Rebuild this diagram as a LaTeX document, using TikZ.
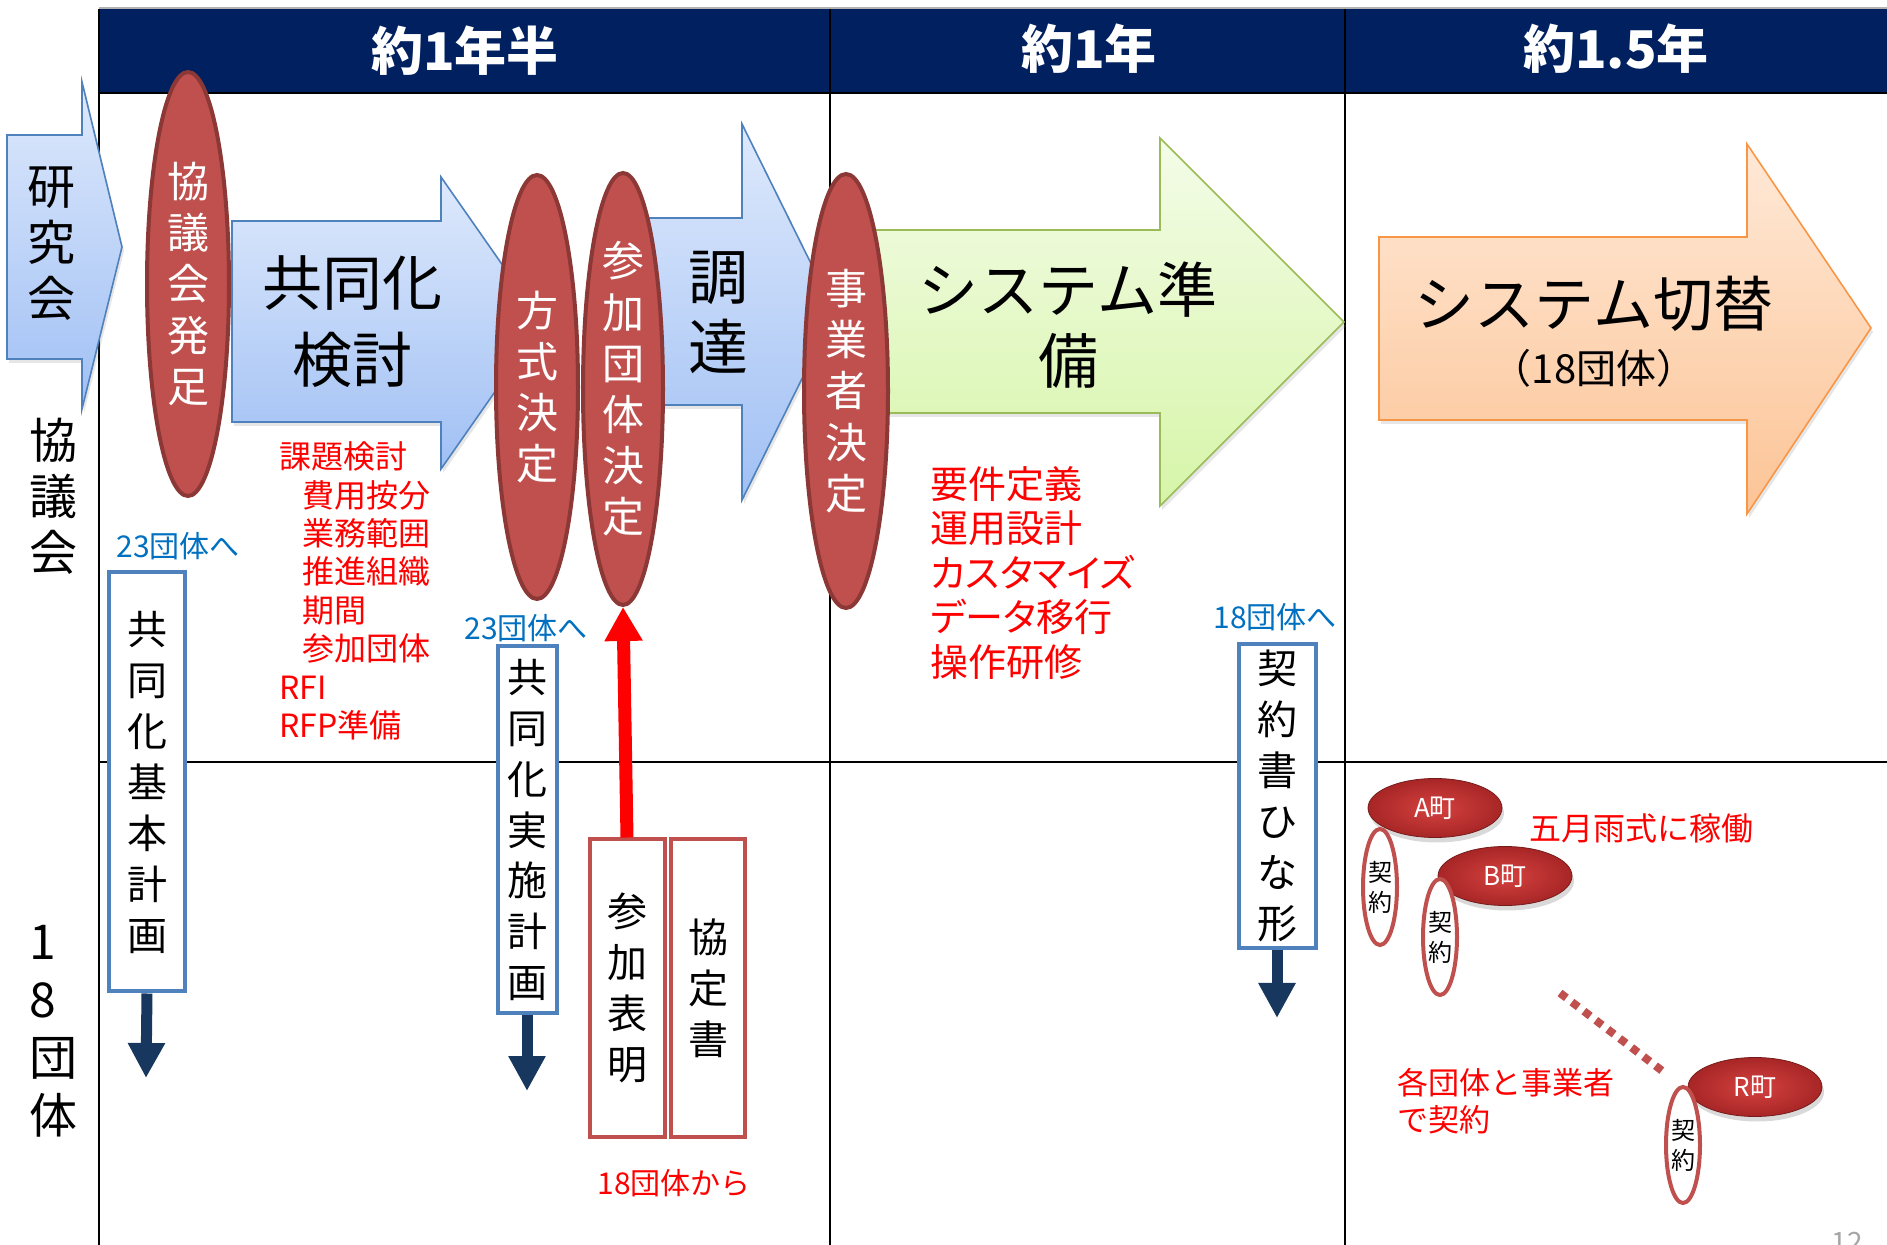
\documentclass[tikz,border=0pt]{standalone}
\usepackage{fontspec}
\setmainfont{Noto Sans CJK JP}
\usetikzlibrary{shapes.geometric,arrows.meta,shadows}

\definecolor{hdrnavy}{RGB}{0,32,96}
\definecolor{ovalred}{RGB}{192,80,77}
\definecolor{ovalline}{RGB}{140,56,54}
\definecolor{boxblue}{RGB}{79,129,189}
\definecolor{arrnavy}{RGB}{23,55,94}
\definecolor{noteblue}{RGB}{0,112,192}
\definecolor{notered}{RGB}{255,0,0}
\definecolor{bluetop}{RGB}{222,233,252}
\definecolor{bluebot}{RGB}{160,192,244}
\definecolor{greentop}{RGB}{244,252,232}
\definecolor{greenbot}{RGB}{214,245,168}
\definecolor{greenline}{RGB}{155,187,89}
\definecolor{orangetop}{RGB}{255,233,215}
\definecolor{orangebot}{RGB}{252,196,150}
\definecolor{orangeline}{RGB}{247,150,70}
\definecolor{townlight}{RGB}{212,66,64}
\definecolor{towndark}{RGB}{168,38,38}

\begin{document}
\begin{tikzpicture}[x=0.5pt,y=-0.5pt,
        grid/.style={draw=black, line width=1.3pt},
        hdr/.style={text=white, font=\bfseries\fontsize{26}{30}\selectfont},
        arrowshadow/.style={drop shadow={opacity=0.2, shadow xshift=1pt, shadow yshift=-2pt}},
        bluearrow/.style={arrowshadow, draw=boxblue, line width=0.8pt, top color=bluetop, bottom color=bluebot},
        greenarrow/.style={arrowshadow, draw=greenline, line width=0.8pt, top color=greentop, bottom color=greenbot},
        orangearrow/.style={arrowshadow, draw=orangeline, line width=0.8pt, top color=orangetop, bottom color=orangebot},
        bigtext/.style={align=center, inner sep=0pt, font=\fontsize{30}{38.5}\selectfont},
        sidetext/.style={align=center, inner sep=0pt, font=\fontsize{24}{28}\selectfont},
        oval/.style={ellipse, draw=ovalline, fill=ovalred, line width=2pt, text=white, align=center, inner sep=0pt, minimum width=41pt, font=\fontsize{21}{25.6}\selectfont},
        docbox/.style={draw=boxblue, fill=white, line width=2pt, align=center, inner sep=0pt, font=\fontsize{20}{25.5}\selectfont},
        redbox/.style={docbox, draw=ovalred},
        rednote/.style={text=notered, align=left, inner sep=0pt},
        bluenote/.style={text=noteblue, inner sep=0pt, font=\fontsize{15}{18}\selectfont},
        town/.style={ellipse, minimum width=67pt, minimum height=29.5pt, inner sep=0pt, draw=towndark!70!black, line width=0.4pt, inner color=townlight, outer color=towndark, text=white, font=\fontsize{13}{15}\selectfont, drop shadow={opacity=0.3, shadow xshift=1pt, shadow yshift=-2.5pt}},
        contract/.style={ellipse, draw=ovalred, fill=white, line width=2pt, minimum width=17pt, minimum height=58pt, inner sep=0pt, align=center, font=\fontsize{12}{15}\selectfont},
        navyarrow/.style={draw=arrnavy, line width=5.5pt, -{Triangle[width=17.5pt,length=17.5pt]}},
        redarrow/.style={draw=notered, line width=6.5pt, -{Triangle[width=18pt,length=17pt]}},
        dotline/.style={draw=ovalred, line width=4pt, dash pattern=on 4pt off 3.5pt},
    ]
    \useasboundingbox (0,0) rectangle (1887,1245);

    % header and grid
    \fill[hdrnavy] (99,9) rectangle (1887,93);
    \draw[gray!60, line width=1pt] (99,8) -- (1887,8);
    \draw[grid] (99,93) -- (1887,93);
    \draw[grid] (99,762) -- (1887,762);
    \draw[grid] (99,9) -- (99,1245);
    \draw[grid] (830,9) -- (830,1245);
    \draw[grid] (1345,9) -- (1345,1245);
    \node[hdr](hdrA) at (465,51) {約1年半};
    \node[hdr](hdrB) at (1089,49) {約1年};
    \node[hdr](hdrC) at (1616,49) {約1.5年};

    % block arrows
    \draw[bluearrow] (7,135) -- (82,135) -- (82,82) -- (122,247) -- (82,409) -- (82,359) -- (7,359) -- cycle;
    \draw[bluearrow] (232,221) -- (441,221) -- (441,177) -- (543,323) -- (441,469) -- (441,422) -- (232,422) -- cycle;
    \draw[bluearrow] (640,218) -- (742,218) -- (742,124) -- (835,312) -- (742,500) -- (742,405) -- (640,405) -- cycle;
    \draw[greenarrow] (870,230) -- (1160,230) -- (1160,138) -- (1344,322) -- (1160,506) -- (1160,413) -- (870,413) -- cycle;
    \draw[orangearrow] (1379,237) -- (1747,237) -- (1747,144) -- (1871,328) -- (1747,514) -- (1747,420) -- (1379,420) -- cycle;
    \node[sidetext](kenkyu) at (51,244) {研\\究\\会};
    \node[bigtext](kento) at (352,322) {共同化\\検討};
    \node[bigtext, font=\fontsize{30}{35}\selectfont](chotatsu) at (718,313) {調\\達};
    \node[bigtext, font=\fontsize{30}{35.5}\selectfont](junbi) at (1068,325) {システム準\\備};
    \node[bigtext](kirikae) at (1594,304) {システム切替};
    \node[inner sep=0pt, font=\fontsize{20}{24}\selectfont](kirikaeSub) at (1594,368) {（18団体）};

    % decisions
    \node[oval, minimum height=212pt](ovKyogikai) at (188,284) {協\\議\\会\\発\\足};
    \node[oval, minimum height=212pt](ovHoshiki) at (537,387) {方\\式\\決\\定};
    \node[oval, minimum width=40pt, minimum height=216pt](ovSanka) at (623,389) {参\\加\\団\\体\\決\\定};
    \node[oval, minimum width=42pt, minimum height=217pt](ovJigyo) at (846,391) {事\\業\\者\\決\\定};

    \node[sidetext](kyogikaiLbl) at (53,496) {協\\議\\会};
    \node[sidetext, align=left, anchor=west, font=\fontsize{24}{29}\selectfont](dantaiLbl) at (29,1031) {1\\8\\団\\体};

    \node[rednote, anchor=west, font=\fontsize{16}{19.2}\selectfont](kadai) at (279,591) {課題検討\\\hspace*{11.5pt}費用按分\\\hspace*{11.5pt}業務範囲\\\hspace*{11.5pt}推進組織\\\hspace*{11.5pt}期間\\\hspace*{11.5pt}参加団体\\RFI\\RFP準備};
    \node[rednote, anchor=west, font=\fontsize{19}{22.25}\selectfont\addfontfeature{RawFeature=+palt}](yoken) at (930,573) {要件定義\\運用設計\\カスタマイズ\\データ移行\\操作研修};

    \node[bluenote](toA) at (178,546) {23団体へ};
    \node[bluenote](toB) at (526,628) {23団体へ};
    \node[bluenote](toC) at (1275,617) {18団体へ};

    % documents
    \node[docbox, minimum width=38pt, minimum height=209.5pt](bxKihon) at (147,782) {共\\同\\化\\基\\本\\計\\画};
    \node[docbox, minimum width=29.5pt, minimum height=183.5pt, font=\fontsize{20}{25.4}\selectfont](bxJisshi) at (527,830) {共\\同\\化\\実\\施\\計\\画};
    \node[docbox, minimum width=38.5pt, minimum height=152pt](bxHinagata) at (1277,796) {契\\約\\書\\ひ\\な\\形};
    \node[redbox, minimum width=37.5pt, minimum height=148.5pt](bxHyomei) at (627,988) {参\\加\\表\\明};
    \node[redbox, minimum width=37pt, minimum height=148.5pt](bxKyotei) at (708,988) {協\\定\\書};

    \coordinate (kihonEnd) at (146,1078);
    \coordinate (jisshiEnd) at (527,1091);
    \coordinate (hinagataEnd) at (1277,1018);
    \draw[navyarrow] (bxKihon.south) -- (kihonEnd);
    \draw[navyarrow] (bxJisshi.south) -- (jisshiEnd);
    \draw[navyarrow] (bxHinagata.south) -- (hinagataEnd);
    \draw[redarrow] (bxHyomei.north) -- (ovSanka.south);
    \node[rednote, font=\fontsize{15}{18}\selectfont](fromC) at (674,1183) {18団体から};

    % towns
    \node[town](twA) at (1435,808) {A町};
    \node[contract](keiA) at (1380,887) {契\\約};
    \node[town](twB) at (1505,876) {B町};
    \node[contract](keiB) at (1440,937) {契\\約};
    \node[town](twR) at (1755,1087) {R町};
    \node[contract](keiR) at (1683,1145) {契\\約};
    \node[rednote, font=\fontsize{16}{19}\selectfont](samidare) at (1641,828) {五月雨式に稼働};
    \coordinate (dotStart) at (1560,993);
    \coordinate (dotEnd) at (1665,1073);
    \draw[dotline] (dotStart) -- (dotEnd);
    \node[rednote, anchor=west, font=\fontsize{15.5}{18.5}\selectfont](keiyakuNote) at (1397,1101) {各団体と事業者\\で契約};
    \node[text=gray!70, anchor=north, inner sep=0pt, font=\fontsize{14}{16}\selectfont](pageNo) at (1847,1232) {12};

\end{tikzpicture}
\end{document}
